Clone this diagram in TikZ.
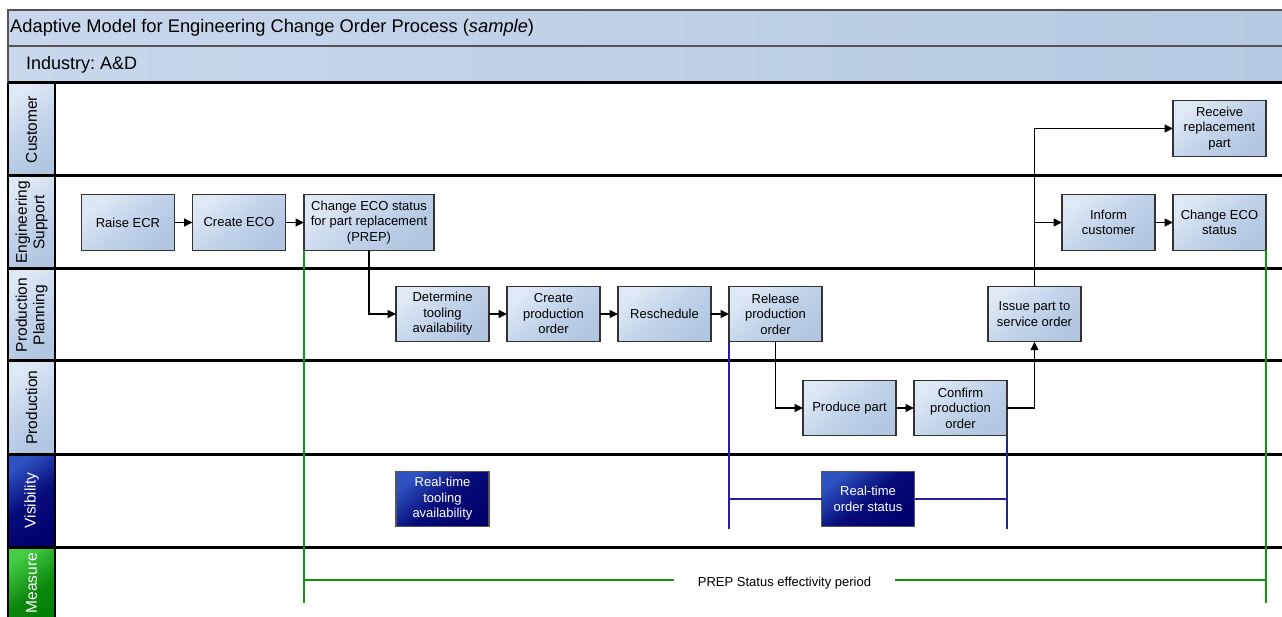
\documentclass[tikz,border=0pt]{standalone}
\usepackage{fontspec}
\setmainfont{Liberation Sans}
\usetikzlibrary{arrows.meta}
\frenchspacing
\definecolor{boxlight}{HTML}{DFE8F5}
\definecolor{boxmid}{HTML}{C2D3EA}
\definecolor{boxdark}{HTML}{B2C6E1}
\definecolor{barlight}{HTML}{C8D7EC}
\definecolor{bardark}{HTML}{B6C9E2}
\definecolor{boxedge}{HTML}{333333}
\definecolor{vislight}{HTML}{2E52C2}
\definecolor{visdark}{HTML}{00006C}
\definecolor{measlight}{HTML}{44CC44}
\definecolor{measdark}{HTML}{007800}
\definecolor{navyline}{HTML}{22229A}
\definecolor{greenline}{HTML}{139413}
\definecolor{bargray}{HTML}{555555}
\begin{document}
\begin{tikzpicture}[x=1pt,y=-1pt,
  proc/.style={draw=boxedge, line width=1.3pt, top color=boxlight, bottom color=boxdark, middle color=boxmid, shading angle=40,
    minimum width=93pt, minimum height=55.5pt, inner sep=0pt, outer sep=0pt, align=center,
    font=\fontsize{13}{15.5}\selectfont},
  visbox/.style={proc, top color=vislight, bottom color=visdark, middle color=visdark!85!vislight, shading angle=40, text=white, draw=bargray},
  arr/.style={line width=1.2pt, -{Triangle[length=8.5pt,width=8pt]}},
  lane/.style={line width=3pt, black},
  cell/.style={draw=bargray, line width=0.8pt, top color=boxlight, bottom color=boxdark, middle color=boxmid, shading angle=35},
  bar/.style={draw=bargray, line width=1.3pt, left color=barlight, right color=bardark},
  lanelab/.style={rotate=90, align=center, font=\fontsize{15.5}{17.5}\selectfont, inner sep=0pt},
  visline/.style={line width=1.2pt, navyline},
  gline/.style={line width=1.2pt, greenline}]
\useasboundingbox (0,0) rectangle (1282,617);
% header bars
\shade[bar] (8,10) rectangle (1290,46);
\shade[bar] (8,46) rectangle (1290,83);
\draw[bargray, line width=1.3pt] (8,10) rectangle (1290,46);
\draw[bargray, line width=1.3pt] (8,46) rectangle (1290,83);
\node[anchor=west, inner sep=0pt, font=\fontsize{18.3}{20}\selectfont] (title) at (10,28)
  {Adaptive Model for Engineering Change Order Process (\textit{sample})};
\node[anchor=west, inner sep=0pt, font=\fontsize{18}{20}\selectfont] (industry) at (26,64.5) {Industry: A\&D};
% lane label cells
\shade[cell] (8,83) rectangle (55,176);
\shade[cell] (8,176) rectangle (55,269);
\shade[cell] (8,269) rectangle (55,361);
\shade[cell] (8,361) rectangle (55,454);
\shade[cell, top color=vislight, bottom color=visdark, middle color=visdark!85!vislight, shading angle=35] (8,454) rectangle (55,547);
\shade[cell, top color=measlight, bottom color=measdark, middle color=measdark!80!measlight, shading angle=35] (8,547) rectangle (55,640);
\node[lanelab] (lcust) at (31.5,129.5) {Customer};
\node[lanelab] (leng) at (31.5,222.5) {Engineering\\Support};
\node[lanelab] (lplan) at (31.5,315) {Production\\Planning};
\node[lanelab] (lprod) at (31.5,407.5) {Production};
\node[lanelab, text=white] (lvis) at (31.5,500.5) {Visibility};
\node[lanelab, text=white] (lmeas) at (31.5,583) {Measure};
% lane lines
\foreach \yy in {83,176,269,361,454,547} \draw[lane] (8,\yy) -- (1290,\yy);
\draw[line width=2pt] (8,83) -- (8,620);
\draw[line width=2pt] (55,83) -- (55,620);
% process boxes
\node[proc] (raise) at (128,222.5) {Raise ECR};
\node[proc] (create) at (239,222.5) {Create ECO};
\node[proc, minimum width=130pt] (prep) at (369,222.5) {Change ECO status\\for part replacement\\(PREP)};
\node[proc] (determine) at (442.5,314) {Determine\\tooling\\availability};
\node[proc] (cpo) at (553.5,314) {Create\\production\\order};
\node[proc] (resched) at (664.5,314) {Reschedule};
\node[proc] (release) at (775.5,314) {Release\\production\\order};
\node[proc] (produce) at (849.5,408) {Produce part};
\node[proc] (confirm) at (960.5,408) {Confirm\\production\\order};
\node[proc] (issue) at (1034.5,314) {Issue part to\\service order};
\node[proc] (receive) at (1219.5,128.5) {Receive\\replacement\\part};
\node[proc] (inform) at (1108.5,222.5) {Inform\\customer};
\node[proc] (changeeco) at (1219.5,222.5) {Change ECO\\status};
\node[visbox] (rtt) at (442.5,499) {Real-time\\tooling\\availability};
\node[visbox] (rto) at (868,499) {Real-time\\order status};
% flow arrows
\draw[arr] (raise) -- (create);
\draw[arr] (create) -- (prep);
\draw[arr] (prep.south) |- (determine.west);
\draw[arr] (determine) -- (cpo);
\draw[arr] (cpo) -- (resched);
\draw[arr] (resched) -- (release);
\draw[arr] (release.south) |- (produce.west);
\draw[arr] (produce) -- (confirm);
\draw[arr] (confirm.east) -| (issue.south);
\draw[arr] (issue.north) |- (receive.west);
\draw[arr] (issue.north |- inform.west) -- (inform.west);
\draw[arr] (inform) -- (changeeco);
% visibility span
\coordinate (vb1) at (729,529);
\coordinate (vb2) at (1007,529);
\draw[visline] (release.south west) -- (vb1);
\draw[visline] (confirm.south east) -- (vb2);
\draw[visline] (rto.west) -- (release.south west |- rto.west);
\draw[visline] (rto.east) -- (confirm.south east |- rto.east);
% measure span
\coordinate (g1) at (304,603);
\coordinate (g2) at (1266,603);
\coordinate (gl) at (304,580);
\coordinate (gr) at (1266,580);
\coordinate (gm1) at (674,580);
\coordinate (gm2) at (895,580);
\draw[gline] (prep.south west) -- (g1);
\draw[gline] (changeeco.south east) -- (g2);
\node[inner sep=0pt, font=\fontsize{13}{15.5}\selectfont] (period) at (784.5,583) {PREP Status effectivity period};
\draw[gline] (gl) -- (gm1);
\draw[gline] (gm2) -- (gr);
\end{tikzpicture}
\end{document}
